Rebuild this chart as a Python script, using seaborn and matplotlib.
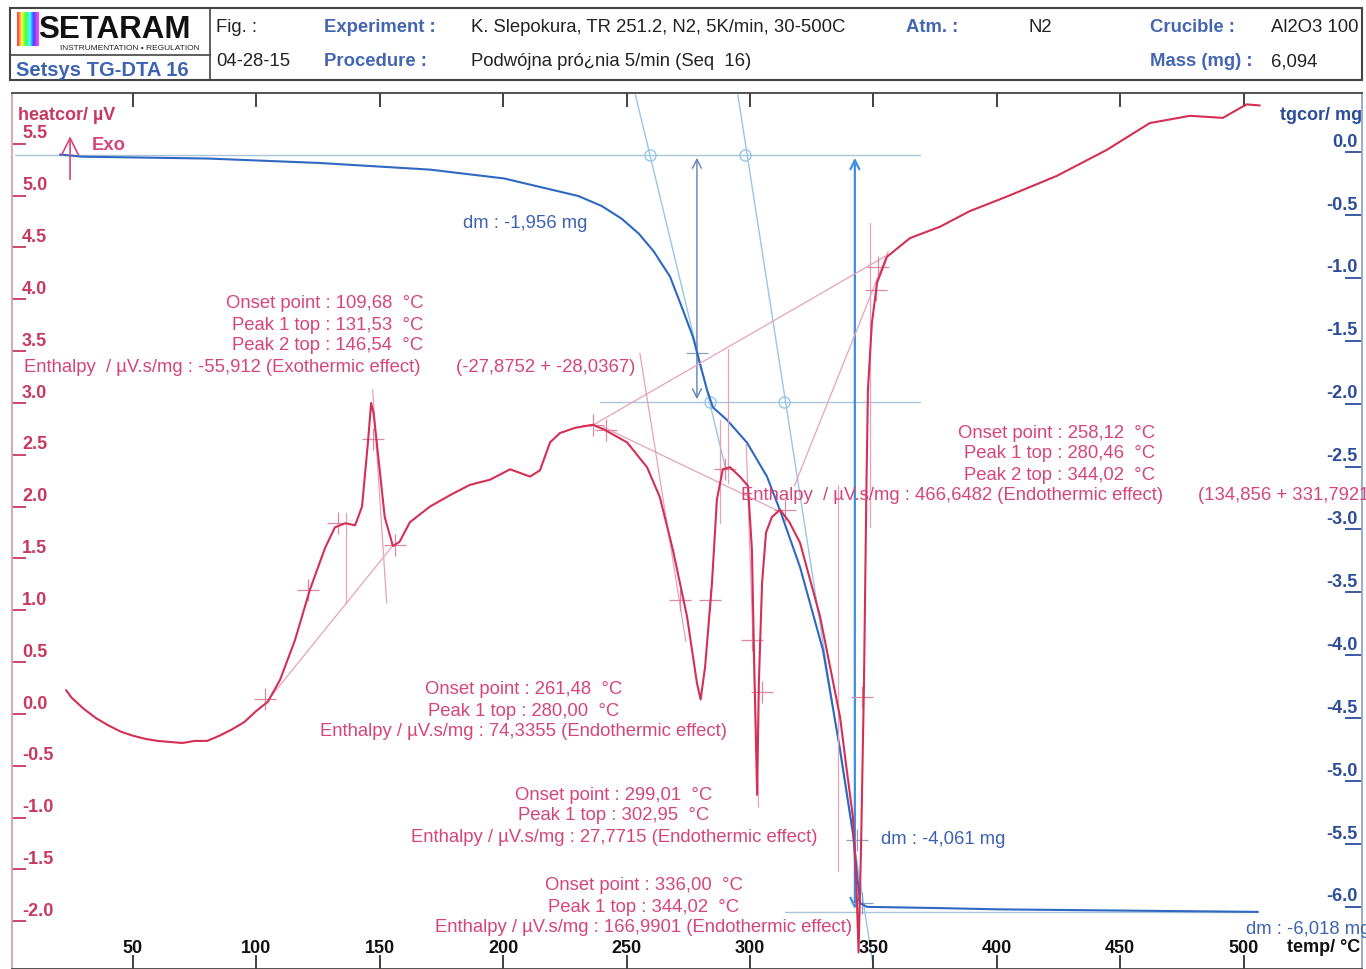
import numpy as np
import pandas as pd
import matplotlib
matplotlib.use("Agg")
import matplotlib.pyplot as plt
import seaborn as sns
from matplotlib.patches import Rectangle
from matplotlib.lines import Line2D

# ---------------- data ----------------
heat_temp = [22.9, 25, 30, 35, 40, 45, 50, 55, 60, 65, 70, 75, 80, 85, 90, 95, 100,
             104.7, 109.6, 115.6, 121.7, 127.8, 131.8, 136, 140, 142.8, 145.2, 146.5,
             147.5, 149.3, 152, 155.3, 158, 162.2, 170.3, 178.4, 186.5, 194.7, 202.8,
             210.9, 214.9, 219, 223, 229.1, 236.4, 241.2, 250.2, 258.3, 263.5, 268.8,
             274.5, 278.5, 280, 281.8, 284.6, 286.6, 289, 291.9, 295.9, 299.2, 300.8,
             301.6, 302.9, 303.6, 304.9, 306.5, 308.9, 312.2, 316, 320.3, 324.3, 328.4,
             332.5, 336.5, 339, 341.7, 343.2, 344.0, 345, 346.2, 347.2, 347.8, 349.4,
             351.5, 355.5, 364.8, 377, 389, 404, 424.3, 444.5, 462, 478.3, 491.6,
             501.2, 506.6]
heat_uv = [0.23, 0.16, 0.05, -0.04, -0.11, -0.17, -0.21, -0.24, -0.26, -0.27, -0.28,
           -0.26, -0.26, -0.21, -0.15, -0.08, 0.03, 0.12, 0.33, 0.71, 1.2, 1.6, 1.80,
           1.84, 1.82, 2.0, 2.62, 3.0, 2.9, 2.5, 1.9, 1.62, 1.66, 1.85, 2.0, 2.11, 2.21,
           2.26, 2.36, 2.29, 2.35, 2.62, 2.71, 2.76, 2.79, 2.74, 2.62, 2.38, 2.09, 1.58,
           0.94, 0.30, 0.14, 0.45, 1.26, 2.07, 2.36, 2.38, 2.29, 2.2, 1.58, 0.62, -0.78,
           0.30, 1.26, 1.75, 1.90, 1.97, 1.85, 1.65, 1.3, 0.94, 0.45, -0.03, -0.5, -0.99,
           -1.7, -2.3, -1.3, 0.3, 2.2, 3.13, 3.77, 4.16, 4.41, 4.59, 4.70, 4.85, 4.99,
           5.19, 5.44, 5.70, 5.77, 5.75, 5.88, 5.87]

tg_temp = [20.4, 29.3, 80.4, 125.4, 170.3, 200.3, 230.5, 240.0, 248.0, 255.0, 261.0,
           267.6, 272.9, 276.9, 279.7, 282.6, 285, 290.7, 298.8, 306.9, 312.2, 320.3,
           329.6, 336.5, 341.7, 344.6, 347.4, 377, 401.3, 505.8]
tg_mg = [-0.02, -0.037, -0.052, -0.087, -0.14, -0.21, -0.35, -0.43, -0.53, -0.65,
         -0.79, -0.99, -1.26, -1.47, -1.68, -1.89, -2.03, -2.13, -2.31, -2.58, -2.85,
         -3.30, -3.96, -4.75, -5.41, -5.97, -6.00, -6.01, -6.02, -6.04]

x_ticks = [50, 100, 150, 200, 250, 300, 350, 400, 450, 500]
heat_ticks = [-2.0, -1.5, -1.0, -0.5, 0.0, 0.5, 1.0, 1.5, 2.0, 2.5, 3.0, 3.5, 4.0, 4.5, 5.0, 5.5]
tg_ticks = [0.0, -0.5, -1.0, -1.5, -2.0, -2.5, -3.0, -3.5, -4.0, -4.5, -5.0, -5.5, -6.0]

# step analysis (TG): levels and temperatures of the dm arrows
tg_levels = [-0.024, -1.987, -6.04]
dm_arrow_temps = [278.5, 342.5]
dm_labels = ["dm : -1,956 mg", "dm : -4,061 mg", "dm : -6,018 mg"]

# annotation texts
exo_block = ["Onset point : 109,68  °C", "Peak 1 top : 131,53  °C", "Peak 2 top : 146,54  °C",
             "Enthalpy  / µV.s/mg : -55,912 (Exothermic effect)"]
exo_sum = "(-27,8752 + -28,0367)"
endo_big = ["Onset point : 258,12  °C", "Peak 1 top : 280,46  °C", "Peak 2 top : 344,02  °C",
            "Enthalpy  / µV.s/mg : 466,6482 (Endothermic effect)"]
endo_big_sum = "(134,856 + 331,7921)"
endo_1 = ["Onset point : 261,48  °C", "Peak 1 top : 280,00  °C",
          "Enthalpy / µV.s/mg : 74,3355 (Endothermic effect)"]
endo_2 = ["Onset point : 299,01  °C", "Peak 1 top : 302,95  °C",
          "Enthalpy / µV.s/mg : 27,7715 (Endothermic effect)"]
endo_3 = ["Onset point : 336,00  °C", "Peak 1 top : 344,02  °C",
          "Enthalpy / µV.s/mg : 166,9901 (Endothermic effect)"]

# ---------------- style ----------------
sns.set_style("white")
plt.rcParams['font.family'] = ['Liberation Sans', 'DejaVu Sans']

RED = "#d42f55"
PINK = "#d6457a"
PINK_TICK = "#c8385f"
BLUE = "#2f68c2"
BLUE_TXT = "#3c62b0"
BLUE_TICK = "#2c4d9a"
LBLUE = "#98c6e6"
CONSTR = "#e6a3b8"
FS = 13.3

W, H = 1366, 969
fig = plt.figure(figsize=(W / 100, H / 100), dpi=100)


def fx(x):
    return x / W


def fy(y):
    return 1 - y / H


ax = fig.add_axes([fx(12), 0, (1362 - 12) / W, (969 - 93) / H])
ax.set_xlim(0.97, 548.0)
ax.set_ylim(-2.46, 5.99)
ax2 = ax.twinx()
ax2.set_ylim(-6.494, 0.469)

# ---------------- curves ----------------
heat_df = pd.DataFrame({"temp": heat_temp, "heatcor": heat_uv})
tg_df = pd.DataFrame({"temp": tg_temp, "tgcor": tg_mg})

# construction lines (TG)
for lvl, (t0, t1) in zip(tg_levels, [(2.2, 368.9), (239.2, 368.9), (314.2, 505.8)]):
    ax2.plot([t0, t1], [lvl, lvl], color="#a9c6d8", lw=1.0, zorder=1)
ax2.plot([253.6, 290.3], [0.453, -2.53], color=LBLUE, lw=1.0, zorder=1)
ax2.plot([295.1, 350.1], [0.453, -6.49], color=LBLUE, lw=1.0, zorder=1)
ax2.plot([259.5, 298.0, 283.8, 313.8], [-0.024, -0.024, -1.987, -1.987], ls="none",
         marker="o", ms=8, mfc="none", mec=LBLUE, mew=1.0, zorder=2)
ax2.annotate("", xy=(dm_arrow_temps[0], tg_levels[0]), xytext=(dm_arrow_temps[0], tg_levels[1]),
             arrowprops=dict(arrowstyle="<->", color="#5f80b8", lw=1.0, mutation_scale=16), zorder=2)
ax2.annotate("", xy=(dm_arrow_temps[1], tg_levels[0]), xytext=(dm_arrow_temps[1], tg_levels[2]),
             arrowprops=dict(arrowstyle="<->", color="#3f8ee6", lw=1.6, mutation_scale=16), zorder=2)
ax2.plot([278.5, 343.3, 345.5], [-1.6, -5.47, -5.97], ls="none", marker="+", ms=16,
         mec="#8aa0c0", mew=0.9, zorder=2)

# construction lines (DTA)
constr_lines = [((104.9, 0.14), (154.8, 1.61)), ((136.3, 1.07), (136.3, 1.94)),
                ((147.1, 3.13), (152.8, 1.07)), ((235.2, 2.77), (355.9, 4.43)),
                ((240.4, 2.77), (312.2, 1.95)), ((255.4, 3.48), (274.0, 0.7)),
                ((291.1, 3.52), (291.1, 2.23)), ((287.8, 2.84), (287.8, 1.84)),
                ((318.0, 2.2), (356.0, 4.46)), ((348.6, 4.74), (348.6, 1.8)),
                ((335.7, 2.21), (335.7, -1.51)), ((298.5, 2.6), (303.5, -0.9))]
for (a, b) in constr_lines:
    ax.plot([a[0], b[0]], [a[1], b[1]], color=CONSTR, lw=0.9, zorder=1)
cross_T = [103.5, 120.9, 133, 147.2, 156.2, 236.4, 241.5, 271.6, 283.8, 300.8, 304.9, 290.0,
           314.2, 345.4, 351.9, 351.0]
cross_V = [0.14, 1.2, 1.84, 2.65, 1.63, 2.79, 2.74, 1.1, 1.1, 0.71, 0.21, 2.36, 1.97, 0.16,
           4.31, 4.09]
ax.plot(cross_T, cross_V, ls="none", marker="+", ms=16, mec="#d98aa3", mew=0.9, zorder=2)

sns.lineplot(data=tg_df, x="temp", y="tgcor", ax=ax2, color=BLUE, lw=1.5, sort=False,
             estimator=None, zorder=3)
sns.lineplot(data=heat_df, x="temp", y="heatcor", ax=ax, color=RED, lw=1.5, sort=False,
             estimator=None, zorder=4)
ax.set_zorder(2)
ax2.set_zorder(1)
ax.patch.set_visible(False)
for a in (ax, ax2):
    a.set_xlabel("")
    a.set_ylabel("")

# ---------------- ticks ----------------
ax.set_xticks(x_ticks)
ax.tick_params(axis="x", which="both", direction="in", length=10, width=1.3, color="#333333",
               top=True, bottom=True, labelbottom=False, labeltop=False)
ax.set_yticks(heat_ticks)
ax.tick_params(axis="y", direction="in", length=10, width=1.3, color=PINK_TICK, left=True,
               right=False, labelleft=False, labelright=False)
ax2.set_yticks(tg_ticks)
ax2.tick_params(axis="y", direction="in", length=12, width=1.3, color=BLUE_TICK, right=True,
                left=False, labelright=False, labelleft=False)

for v in heat_ticks:
    ax.annotate(f"{v:.1f}", xy=(0.0074, v), xycoords=("axes fraction", "data"), xytext=(0, 1),
                textcoords="offset points", ha="left", va="bottom", color=PINK_TICK,
                fontsize=13, fontweight="bold")
for v in tg_ticks:
    ax2.annotate(f"{v:.1f}", xy=(0.9965, v), xycoords=("axes fraction", "data"), xytext=(0, 1),
                 textcoords="offset points", ha="right", va="bottom", color=BLUE_TICK,
                 fontsize=13, fontweight="bold")
for t in x_ticks:
    ax.annotate(str(t), xy=(t, 0), xycoords=("data", "axes fraction"), xytext=(0, 15),
                textcoords="offset points", ha="center", va="center", color="#111111",
                fontsize=13, fontweight="bold")

# spines
ax.spines["left"].set_color("#d9a3a8")
ax.spines["top"].set_color("#444444")
ax.spines["right"].set_visible(False)
ax.spines["bottom"].set_color("#444444")
for s in ("left", "top", "bottom"):
    ax2.spines[s].set_visible(False)
ax2.spines["right"].set_color("#8fa8c8")
for a in (ax, ax2):
    for s in a.spines.values():
        s.set_linewidth(1.3)

# ---------------- axis titles / labels ----------------
fig.text(fx(18), fy(115), "heatcor/ µV", color=PINK_TICK, fontsize=13, fontweight="bold",
         ha="left", va="center")
fig.text(fx(1362), fy(115), "tgcor/ mg", color=BLUE_TICK, fontsize=13, fontweight="bold",
         ha="right", va="center")
fig.text(fx(1360), fy(948), "temp/ °C", color="#111111", fontsize=13, fontweight="bold",
         ha="right", va="center")
fig.text(fx(92), fy(146), "Exo", color=PINK, fontsize=FS, fontweight="bold", ha="left",
         va="center")
ax.annotate("", xy=(24.5, 5.6), xytext=(24.5, 5.13),
            arrowprops=dict(arrowstyle="->", color=PINK, lw=1.2, mutation_scale=30))

# dm labels
fig.text(fx(525), fy(223), dm_labels[0], color=BLUE_TXT, fontsize=FS, ha="center", va="center")
fig.text(fx(881), fy(840), dm_labels[1], color=BLUE_TXT, fontsize=FS, ha="left", va="center")
fig.text(fx(1246), fy(930), dm_labels[2], color=BLUE_TXT, fontsize=FS, ha="left", va="center")

# peak annotations
TXT = dict(color=PINK, fontsize=FS, va="center")
for i, s in enumerate(exo_block[:3]):
    fig.text(fx(423), fy(304 + 21 * i), s, ha="right", **TXT)
fig.text(fx(420), fy(367), exo_block[3], ha="right", **TXT)
fig.text(fx(456), fy(367), exo_sum, ha="left", **TXT)

for i, s in enumerate(endo_big[:3]):
    fig.text(fx(1155), fy(433 + 21 * i), s, ha="right", **TXT)
fig.text(fx(1163), fy(495), endo_big[3], ha="right", **TXT)
fig.text(fx(1198), fy(495), endo_big_sum, ha="left", **TXT)

for block, cx, y0 in ((endo_1, 524, 690), (endo_2, 614, 795), (endo_3, 644, 886)):
    for i, s in enumerate(block):
        fig.text(fx(cx), fy(y0 + 21 * i), s, ha="center", **TXT)

# ---------------- header ----------------
HC = "#444444"
fig.add_artist(Rectangle((fx(10), fy(80)), 1352 / W, 72 / H, transform=fig.transFigure,
                         fill=False, lw=1.5, ec=HC))
fig.add_artist(Line2D([fx(210), fx(210)], [fy(8), fy(80)], transform=fig.transFigure,
                      color=HC, lw=1.2))
fig.add_artist(Line2D([fx(10), fx(210)], [fy(55), fy(55)], transform=fig.transFigure,
                      color=HC, lw=1.2))
lax = fig.add_axes([fx(17), fy(46), 22 / W, 34 / H])
lax.imshow(np.linspace(0, 1, 60)[None, :], aspect="auto", cmap="gist_rainbow", alpha=0.75)
lax.axis("off")
fig.text(fx(38), fy(38), "SETARAM", color="#111111", fontsize=22.5, fontweight="bold",
         ha="left", va="baseline")
fig.text(fx(60), fy(48.5), "INSTRUMENTATION • REGULATION", color="#222222", fontsize=6.0,
         ha="left", va="center")
fig.text(fx(16), fy(70), "Setsys TG-DTA 16", color="#3d63b3", fontsize=14.5,
         fontweight="bold", ha="left", va="center")

HB = "#4466b0"
head = [(216, 28, "Fig. :", "#222222", "normal"), (324, 28, "Experiment :", HB, "bold"),
        (471, 28, "K. Slepokura, TR 251.2, N2, 5K/min, 30-500C", "#222222", "normal"),
        (906, 28, "Atm. :", HB, "bold"), (1028, 28, "N2", "#222222", "normal"),
        (1150, 28, "Crucible :", HB, "bold"), (1271, 28, "Al2O3 100", "#222222", "normal"),
        (216, 62, "04-28-15", "#222222", "normal"), (324, 62, "Procedure :", HB, "bold"),
        (471, 62, "Podwójna pró¿nia 5/min (Seq  16)", "#222222", "normal"),
        (1150, 62, "Mass (mg) :", HB, "bold"), (1271, 62, "6,094", "#222222", "normal")]
for x, y, s, c, w in head:
    fig.text(fx(x), fy(y), s, color=c, fontsize=FS, fontweight=w, ha="left", va="center")

fig.savefig("out.png", dpi=100)
